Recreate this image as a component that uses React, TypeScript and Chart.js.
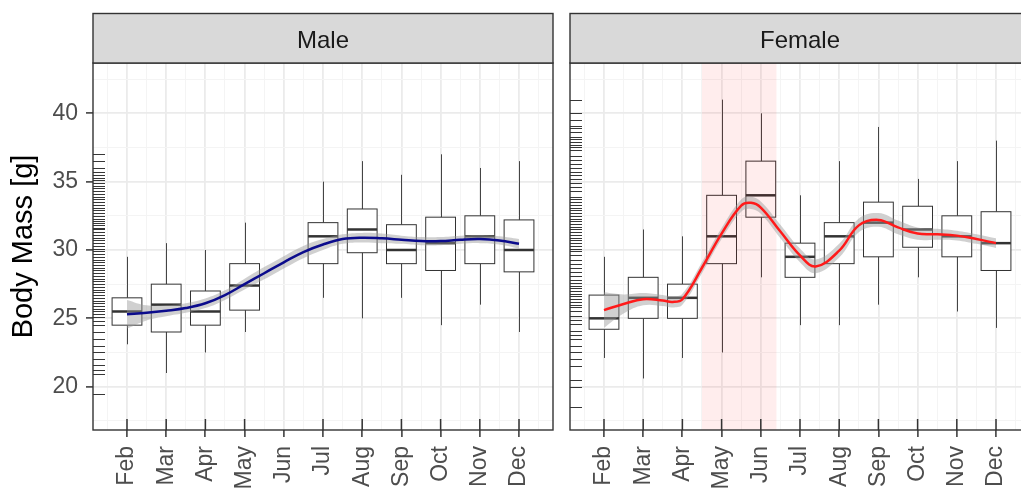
import React, { useEffect, useRef } from "react";
import { Chart, registerables } from "chart.js";

Chart.register(...registerables);

// ---- data ----
const monthNames = ["Jan", "Feb", "Mar", "Apr", "May", "Jun", "Jul", "Aug", "Sep", "Oct", "Nov", "Dec"];
const xTickValues = [1.5, 2, 2.5, 3, 3.5, 4, 4.5, 5, 5.5, 6, 6.5, 7, 7.5, 8, 8.5, 9, 9.5, 10, 10.5, 11, 11.5, 12, 12.5];
const yTickValues = [17.5, 20, 22.5, 25, 27.5, 30, 32.5, 35, 37.5, 40, 42.5];

const maleMonths = [2, 3, 4, 5, 7, 8, 9, 10, 11, 12];
const maleLow = [23.1, 21.0, 22.5, 24.0, 26.5, 25.0, 26.5, 24.5, 26.0, 24.0];
const maleQ1 = [24.5, 24.0, 24.5, 25.6, 29.0, 29.8, 29.0, 28.5, 29.0, 28.4];
const maleMedian = [25.5, 26.0, 25.5, 27.4, 31.0, 31.5, 30.0, 30.5, 31.0, 30.0];
const maleQ3 = [26.5, 27.5, 27.0, 29.0, 32.0, 33.0, 31.85, 32.4, 32.5, 32.2];
const maleHigh = [29.5, 30.5, 30.0, 32.0, 35.0, 36.5, 35.5, 37.0, 36.0, 36.5];

const femaleMonths = [2, 3, 4, 5, 6, 7, 8, 9, 10, 11, 12];
const femaleLow = [22.1, 20.6, 22.1, 22.5, 28.0, 24.5, 24.5, 26.0, 28.0, 25.5, 24.3];
const femaleQ1 = [24.2, 25.0, 25.0, 29.0, 32.4, 28.0, 29.0, 29.5, 30.2, 29.5, 28.5];
const femaleMedian = [25.0, 26.5, 26.5, 31.0, 34.0, 29.5, 31.0, 32.0, 31.5, 31.0, 30.5];
const femaleQ3 = [26.7, 28.0, 27.5, 34.0, 36.5, 30.5, 32.0, 33.5, 33.2, 32.5, 32.8];
const femaleHigh = [29.5, 31.5, 31.0, 41.0, 40.0, 34.0, 36.5, 39.0, 35.2, 36.5, 38.0];

const maleSmoothX = [2, 2.5, 3, 3.5, 4, 4.5, 5, 5.5, 6, 6.5, 7, 7.5, 8, 8.5, 9, 9.5, 10, 10.5, 11, 11.5, 12];
const maleSmooth = [25.3, 25.4, 25.55, 25.75, 26.1, 26.7, 27.5, 28.3, 29.1, 29.85, 30.4, 30.8, 30.9, 30.85, 30.75, 30.65, 30.65, 30.75, 30.8, 30.7, 30.45];
const maleLower = [24.25, 24.85, 25.15, 25.4, 25.75, 26.35, 27.1, 27.85, 28.65, 29.4, 30.0, 30.45, 30.55, 30.5, 30.45, 30.35, 30.35, 30.45, 30.5, 30.4, 30.1];
const maleUpper = [26.35, 25.95, 25.95, 26.1, 26.45, 27.05, 27.9, 28.75, 29.55, 30.3, 30.8, 31.15, 31.25, 31.2, 31.05, 30.95, 30.95, 31.05, 31.1, 31.0, 30.8];

const femaleSmoothX = [2, 2.5, 3, 3.5, 3.75, 4, 4.5, 5, 5.5, 5.75, 6, 6.5, 7, 7.4, 8, 8.5, 9, 9.5, 10, 10.5, 11, 11.5, 12];
const femaleSmooth = [25.6, 26.05, 26.4, 26.3, 26.2, 26.4, 28.7, 31.2, 33.25, 33.45, 33.1, 31.35, 29.6, 28.8, 29.95, 31.8, 32.2, 31.65, 31.2, 31.15, 31.05, 30.8, 30.5];
const femaleLower = [24.3, 25.35, 25.95, 25.9, 25.8, 26.0, 28.3, 30.8, 32.8, 33.0, 32.65, 30.85, 29.1, 28.3, 29.45, 31.3, 31.7, 31.15, 30.75, 30.75, 30.7, 30.45, 30.15];
const femaleUpper = [26.9, 26.75, 26.85, 26.7, 26.6, 26.8, 29.1, 31.6, 33.7, 33.9, 33.55, 31.85, 30.1, 29.3, 30.45, 32.3, 32.7, 32.15, 31.65, 31.55, 31.4, 31.15, 30.85];

const maleRug = [37, 36.5, 36, 35.7, 35.5, 35.3, 35.1, 34.9, 34.7, 34.5, 34.3, 34.1, 33.9, 33.7, 33.5, 33.3, 33.1, 32.9, 32.7, 32.5, 32.3, 32.1, 32, 31.8, 31.6, 31.5, 31.3, 31.1, 30.9, 30.7, 30.5, 30.3, 30.1, 29.9, 29.7, 29.5, 29.3, 29.1, 28.9, 28.7, 28.5, 28.3, 28.1, 27.9, 27.7, 27.5, 27.3, 27.1, 26.9, 26.7, 26.5, 26.3, 26.1, 25.9, 25.7, 25.5, 25.3, 25.1, 24.8, 24.5, 24, 23.5, 23, 22.5, 22, 21.6, 21.2, 20.9, 19.5];
const femaleRug = [41, 40, 39.5, 39.1, 38.9, 38.6, 38.3, 38.1, 37.9, 37.7, 37.5, 37.3, 36.9, 36.6, 36.3, 36, 35.7, 35.5, 35.2, 34.9, 34.6, 34.3, 33.9, 33.7, 33.5, 33.3, 33.1, 32.9, 32.7, 32.5, 32.3, 32.1, 31.9, 31.7, 31.5, 31.3, 31.1, 30.9, 30.7, 30.5, 30.3, 30.1, 29.9, 29.6, 29.3, 29, 28.7, 28.4, 28.1, 27.8, 27.6, 27.4, 27.2, 27, 26.8, 26.6, 26.4, 26.2, 26, 25.8, 25.5, 25.2, 24.9, 24.6, 24.1, 23.8, 23.5, 23, 22.5, 22, 21.5, 20.5, 20, 18.5];

const femaleShade = [4.5, 6.4];

// ---- styling ----
const FONT = "'Liberation Sans', Arial, sans-serif";
const X_MIN = 1.133;
const X_MAX = 12.867;
const Y_MIN = 16.83;
const Y_MAX = 43.68;
const BOX_HALF = 0.38;
const MAJOR_GRID = "#ebebeb";
const MINOR_GRID = "#f4f4f4";
const DARK = "#333333";

interface PanelProps {
  label: string;
  left: number;
  width: number;
  padLeft: number;
  padRight: number;
  yAxis: boolean;
  months: number[];
  low: number[];
  q1: number[];
  median: number[];
  q3: number[];
  high: number[];
  smoothX: number[];
  smooth: number[];
  lower: number[];
  upper: number[];
  lineColor: string;
  rug: number[];
  shade?: number[];
}

const Panel: React.FC<PanelProps> = (p) => {
  const chartRef = useRef<HTMLCanvasElement>(null);

  useEffect(() => {
    if (!chartRef.current) return;
    const ctx = chartRef.current.getContext("2d");
    if (!ctx) return;

    const facetPlugin = {
      id: "facet",
      beforeDatasetsDraw(chart: any) {
        const { ctx, chartArea: a, scales: { x, y } } = chart;
        ctx.save();
        ctx.beginPath();
        ctx.rect(a.left, a.top, a.right - a.left, a.bottom - a.top);
        ctx.clip();
        // boxplots
        p.months.forEach((m, i) => {
          const cx = Math.round(x.getPixelForValue(m)) + 0.5;
          const x0 = x.getPixelForValue(m - BOX_HALF);
          const x1 = x.getPixelForValue(m + BOX_HALF);
          const yLow = y.getPixelForValue(p.low[i]);
          const yQ1 = y.getPixelForValue(p.q1[i]);
          const yMed = y.getPixelForValue(p.median[i]);
          const yQ3 = y.getPixelForValue(p.q3[i]);
          const yHigh = y.getPixelForValue(p.high[i]);
          ctx.strokeStyle = "#444";
          ctx.lineWidth = 1;
          ctx.beginPath();
          ctx.moveTo(cx, yHigh);
          ctx.lineTo(cx, yQ3);
          ctx.moveTo(cx, yQ1);
          ctx.lineTo(cx, yLow);
          ctx.stroke();
          ctx.fillStyle = "#ffffff";
          ctx.fillRect(x0, yQ3, x1 - x0, yQ1 - yQ3);
          ctx.strokeStyle = DARK;
          ctx.strokeRect(x0, yQ3, x1 - x0, yQ1 - yQ3);
          ctx.lineWidth = 2.5;
          ctx.beginPath();
          ctx.moveTo(x0, yMed);
          ctx.lineTo(x1, yMed);
          ctx.stroke();
        });
        if (p.shade) {
          const s0 = x.getPixelForValue(p.shade[0]);
          const s1 = x.getPixelForValue(p.shade[1]);
          ctx.fillStyle = "rgba(255, 0, 0, 0.07)";
          ctx.fillRect(s0, a.top, s1 - s0, a.bottom - a.top);
        }
        ctx.restore();
      },
      afterDatasetsDraw(chart: any) {
        const { ctx, chartArea: a, scales: { x, y } } = chart;
        ctx.save();
        // rug on y
        ctx.strokeStyle = "rgba(20, 20, 20, 0.85)";
        ctx.lineWidth = 1;
        ctx.beginPath();
        p.rug.forEach((v) => {
          const py = Math.round(y.getPixelForValue(v)) + 0.5;
          ctx.moveTo(a.left, py);
          ctx.lineTo(a.left + 12, py);
        });
        ctx.stroke();
        // rug on x
        ctx.strokeStyle = DARK;
        ctx.lineWidth = 1.5;
        ctx.beginPath();
        p.months.forEach((m) => {
          const px = x.getPixelForValue(m);
          ctx.moveTo(px, a.bottom - 11);
          ctx.lineTo(px, a.bottom);
        });
        ctx.stroke();
        // panel border
        ctx.lineWidth = 1.4;
        ctx.strokeStyle = DARK;
        ctx.strokeRect(a.left, a.top, a.right - a.left, a.bottom - a.top);
        // strip
        const stripTop = 13.5;
        ctx.fillStyle = "#d9d9d9";
        ctx.fillRect(a.left, stripTop, a.right - a.left, a.top - stripTop);
        ctx.strokeRect(a.left, stripTop, a.right - a.left, a.top - stripTop);
        ctx.fillStyle = "#1a1a1a";
        ctx.font = `24px ${FONT}`;
        ctx.textAlign = "center";
        ctx.textBaseline = "alphabetic";
        ctx.fillText(p.label, (a.left + a.right) / 2, 47.5);
        ctx.restore();
      },
    };

    const chart = new Chart(ctx, {
      type: "line",
      data: {
        datasets: [
          {
            data: p.smoothX.map((v, i) => ({ x: v, y: p.smooth[i] })),
            borderColor: p.lineColor,
            borderWidth: 2.5,
            pointRadius: 0,
            tension: 0.4,
            fill: false,
          },
          {
            data: p.smoothX.map((v, i) => ({ x: v, y: p.lower[i] })),
            borderWidth: 0,
            pointRadius: 0,
            tension: 0.4,
            fill: false,
          },
          {
            data: p.smoothX.map((v, i) => ({ x: v, y: p.upper[i] })),
            borderWidth: 0,
            pointRadius: 0,
            tension: 0.4,
            fill: "-1",
            backgroundColor: "rgba(150, 150, 150, 0.45)",
          },
        ],
      },
      options: {
        responsive: false,
        animation: false,
        layout: { padding: { top: 63, left: p.padLeft, right: p.padRight, bottom: 0 } },
        plugins: {
          legend: { display: false },
          tooltip: { enabled: false },
        },
        scales: {
          x: {
            type: "linear",
            min: X_MIN,
            max: X_MAX,
            afterBuildTicks: (s: any) => {
              s.ticks = xTickValues.map((v) => ({ value: v }));
            },
            afterFit: (s: any) => {
              s.height = 60;
              s.paddingLeft = 0;
              s.paddingRight = 0;
            },
            border: { display: false },
            grid: {
              color: (c: any) => (Number.isInteger(c.tick?.value) ? MAJOR_GRID : MINOR_GRID),
              lineWidth: (c: any) => (Number.isInteger(c.tick?.value) ? 1.8 : 1),
              tickLength: 7,
              tickColor: (c: any) => (Number.isInteger(c.tick?.value) ? DARK : "rgba(0,0,0,0)"),
              tickWidth: 1.5,
            },
            ticks: {
              autoSkip: false,
              minRotation: 90,
              maxRotation: 90,
              padding: 9,
              color: "#4d4d4d",
              font: { family: FONT, size: 23 },
              callback: (v: any) => (Number.isInteger(v) ? monthNames[v - 1] : ""),
            },
          },
          y: {
            type: "linear",
            min: Y_MIN,
            max: Y_MAX,
            afterBuildTicks: (s: any) => {
              s.ticks = yTickValues.map((v) => ({ value: v }));
            },
            afterFit: (s: any) => {
              s.width = p.yAxis ? 93 : 0;
              s.paddingTop = 0;
              s.paddingBottom = 0;
            },
            border: { display: false },
            grid: {
              color: (c: any) => (c.tick?.value % 5 === 0 ? MAJOR_GRID : MINOR_GRID),
              lineWidth: (c: any) => (c.tick?.value % 5 === 0 ? 1.8 : 1),
              drawTicks: p.yAxis,
              tickLength: 7,
              tickColor: (c: any) => (c.tick?.value % 5 === 0 ? DARK : "rgba(0,0,0,0)"),
              tickWidth: 1.5,
            },
            ticks: {
              display: p.yAxis,
              padding: 8,
              color: "#4d4d4d",
              font: { family: FONT, size: 23 },
              callback: (v: any) => (v % 5 === 0 ? String(v) : ""),
            },
            title: {
              display: p.yAxis,
              text: "Body Mass [g]",
              color: "#000000",
              font: { family: FONT, size: 29 },
              padding: { top: 7, bottom: 0 },
            },
          },
        },
      },
      plugins: [facetPlugin],
    });

    return () => chart.destroy();
  }, [p]);

  return (
    <canvas
      ref={chartRef}
      width={p.width}
      height={490}
      style={{ position: "absolute", left: p.left, top: 0, width: p.width, height: 490 }}
    ></canvas>
  );
};

const maleProps: PanelProps = {
  label: "Male",
  left: 0,
  width: 561,
  padLeft: 0,
  padRight: 8,
  yAxis: true,
  months: maleMonths,
  low: maleLow,
  q1: maleQ1,
  median: maleMedian,
  q3: maleQ3,
  high: maleHigh,
  smoothX: maleSmoothX,
  smooth: maleSmooth,
  lower: maleLower,
  upper: maleUpper,
  lineColor: "#0b0b8c",
  rug: maleRug,
};

const femaleProps: PanelProps = {
  label: "Female",
  left: 561,
  width: 480,
  padLeft: 9,
  padRight: 11,
  yAxis: false,
  months: femaleMonths,
  low: femaleLow,
  q1: femaleQ1,
  median: femaleMedian,
  q3: femaleQ3,
  high: femaleHigh,
  smoothX: femaleSmoothX,
  smooth: femaleSmooth,
  lower: femaleLower,
  upper: femaleUpper,
  lineColor: "#ff1a1a",
  rug: femaleRug,
  shade: femaleShade,
};

export default function App() {
  return (
    <div
      style={{
        position: "fixed",
        left: 0,
        top: 0,
        width: 1021,
        height: 490,
        overflow: "hidden",
        background: "#ffffff",
      }}
    >
      <Panel {...maleProps} />
      <Panel {...femaleProps} />
    </div>
  );
}
